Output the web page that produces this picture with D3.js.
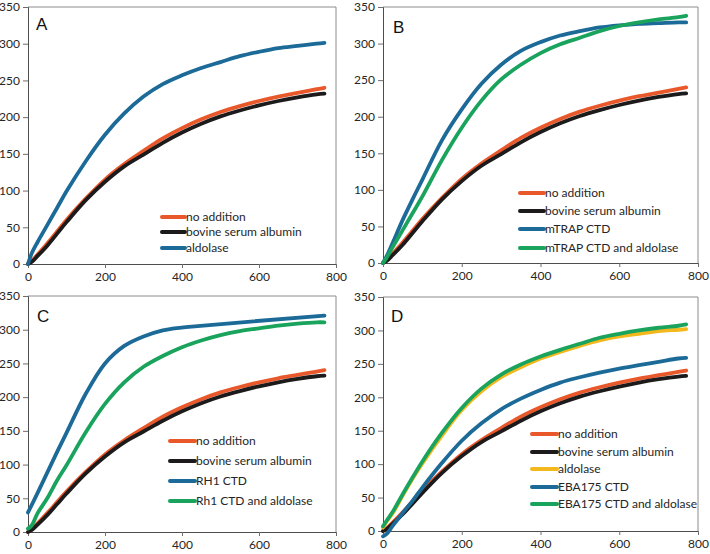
<!DOCTYPE html>
<html>
<head>
<meta charset="utf-8">
<script src="https://cdn.jsdelivr.net/npm/d3@7"></script>
<style>
  body { margin: 0; background: #fff; }
  svg { display: block; }
  .tick text { font-family: Lato, "Open Sans", sans-serif; font-size: 12px; fill: #262626; }
  .legend text { font-family: Lato, "Open Sans", sans-serif; font-size: 12px; fill: #262626; }
  .letter { font-family: "Liberation Sans", Arial, sans-serif; font-size: 17px; fill: #111; }
</style>
</head>
<body>
<svg id="chart" width="710" height="554"></svg>
<script>
// time points (s) shared by most traces
const times = [0, 10, 25, 50, 75, 100, 150, 200, 250, 300, 350, 400, 450, 500, 550, 600, 650, 700, 750, 770];

// control traces, same in every panel
const noAddition = [0, 4, 13, 28, 44, 60, 89, 115, 136, 154, 171, 185, 197, 207, 215, 222, 228, 233, 238, 240];
const bsa        = [0, 3, 11, 25, 41, 57, 87, 112, 133, 149, 165, 179, 191, 201, 209, 216, 222, 227, 231, 232];

// panel A
const aldolaseA = [0, 15, 30, 53, 76, 99, 140, 176, 205, 228, 245, 257, 267, 275, 283, 289, 294, 297, 300, 301];

// panel B
const mtrapCtd         = [0, 10, 28, 59, 87, 114, 168, 210, 245, 271, 290, 302, 311, 317, 322, 325, 327, 328, 329, 329];
const mtrapCtdAldolase = [0, 8, 22, 45, 68, 91, 141, 185, 222, 251, 271, 287, 299, 308, 317, 324, 329, 333, 336, 338];

// panel C (RH1 CTD trace has a gap between 410 and 770)
const timesRh1 = [0, 25, 50, 75, 100, 150, 200, 250, 300, 350, 380, 410, 770];
const rh1Ctd   = [29, 58, 88, 118, 147, 205, 250, 276, 290, 299, 302, 304, 321];
const rh1CtdAldolase = [5, 10, 28, 50, 76, 99, 148, 190, 222, 245, 261, 274, 284, 292, 298, 302, 306, 309, 311, 311];

// panel D
const aldolaseD         = [5, 15, 27, 53, 78, 101, 143, 181, 209, 230, 245, 258, 268, 277, 285, 291, 295, 299, 301, 302];
const eba175Ctd         = [-8, -4, 8, 27, 45, 65, 102, 135, 161, 182, 198, 211, 222, 230, 237, 243, 248, 253, 258, 259];
const eba175CtdAldolase = [7, 16, 29, 55, 80, 104, 147, 184, 213, 234, 249, 261, 271, 280, 289, 295, 300, 304, 307, 309];

const xTicks = [0, 200, 400, 600, 800];
const yTicks = [0, 50, 100, 150, 200, 250, 300, 350];

const colors = {
  orange: "#e9582a", black: "#1c1a1a", blue: "#1c6a98", green: "#19a35c", yellow: "#f3b81c"
};

const zip = (ts, vs) => ts.map((t, i) => ({ t: t, v: vs[i] }));

const ctrl = [
  { name: "no addition", color: colors.orange, pts: zip(times, noAddition) },
  { name: "bovine serum albumin", color: colors.black, pts: zip(times, bsa) }
];

const panels = [
  { letter: "A", left: 28, right: 336, top: 7, bottom: 264, letterPos: [36, 30],
    legend: { x: 162, len: 23, ys: [217, 232, 248] },
    series: ctrl.concat([{ name: "aldolase", color: colors.blue, pts: zip(times, aldolaseA) }]) },
  { letter: "B", left: 383, right: 698, top: 7, bottom: 263, letterPos: [393, 33],
    legend: { x: 520, len: 24, ys: [193, 211, 229, 248] },
    series: ctrl.concat([
      { name: "mTRAP CTD", color: colors.blue, pts: zip(times, mtrapCtd) },
      { name: "mTRAP CTD and aldolase", color: colors.green, pts: zip(times, mtrapCtdAldolase) }]) },
  { letter: "C", left: 28, right: 336, top: 296, bottom: 532, letterPos: [37, 322],
    legend: { x: 170, len: 25, ys: [441, 461, 481, 501] },
    series: ctrl.concat([
      { name: "RH1 CTD", color: colors.blue, pts: zip(timesRh1, rh1Ctd) },
      { name: "Rh1 CTD and aldolase", color: colors.green, pts: zip(times, rh1CtdAldolase) }]) },
  { letter: "D", left: 383, right: 698, top: 297, bottom: 531, letterPos: [391, 322],
    legend: { x: 532, len: 25, ys: [434, 452, 469, 487, 504] },
    series: ctrl.concat([
      { name: "aldolase", color: colors.yellow, pts: zip(times, aldolaseD) },
      { name: "EBA175 CTD", color: colors.blue, pts: zip(times, eba175Ctd) },
      { name: "EBA175 CTD and aldolase", color: colors.green, pts: zip(times, eba175CtdAldolase) }]) }
];

const svg = d3.select("#chart");

panels.forEach(p => {
  const x = d3.scaleLinear().domain([0, 800]).range([p.left, p.right]);
  const y = d3.scaleLinear().domain([0, 350]).range([p.bottom, p.top]);
  const g = svg.append("g").attr("class", "panel_" + p.letter);

  // plot area frame (top and right)
  g.append("path")
    .attr("d", `M${p.left},${p.top}H${p.right}V${p.bottom}`)
    .attr("fill", "none")
    .attr("stroke", "#8c8c8c")
    .attr("stroke-width", 1);

  // axes
  const yAxis = g.append("g")
    .attr("transform", `translate(${p.left},0)`)
    .call(d3.axisLeft(y).tickValues(yTicks).tickSize(5).tickPadding(3));
  const xAxis = g.append("g")
    .attr("transform", `translate(0,${p.bottom})`)
    .call(d3.axisBottom(x).tickValues(xTicks).tickSize(4).tickPadding(4));
  [xAxis, yAxis].forEach(a => {
    a.select(".domain").attr("stroke", "#4d4d4d");
    a.selectAll(".tick line").attr("stroke", "#6e6e6e");
  });

  // traces
  const line = d3.line()
    .x(d => x(d.t))
    .y(d => y(d.v))
    .curve(d3.curveCatmullRom.alpha(0.5));
  g.selectAll(".trace")
    .data(p.series)
    .join("path")
    .attr("class", "trace")
    .attr("d", d => line(d.pts))
    .attr("fill", "none")
    .attr("stroke", d => d.color)
    .attr("stroke-width", 3.8)
    .attr("stroke-linejoin", "round")
    .attr("stroke-linecap", "round");

  // legend
  const lg = g.append("g").attr("class", "legend");
  p.series.forEach((s, i) => {
    const ly = p.legend.ys[i];
    lg.append("line")
      .attr("x1", p.legend.x).attr("x2", p.legend.x + p.legend.len)
      .attr("y1", ly).attr("y2", ly)
      .attr("stroke", s.color)
      .attr("stroke-width", 4)
      .attr("stroke-linecap", "round");
    lg.append("text")
      .attr("x", p.legend.x + p.legend.len + 1)
      .attr("y", ly)
      .attr("dy", "0.35em")
      .text(s.name);
  });

  g.append("text")
    .attr("class", "letter")
    .attr("x", p.letterPos[0])
    .attr("y", p.letterPos[1])
    .text(p.letter);
});
</script>
</body>
</html>
